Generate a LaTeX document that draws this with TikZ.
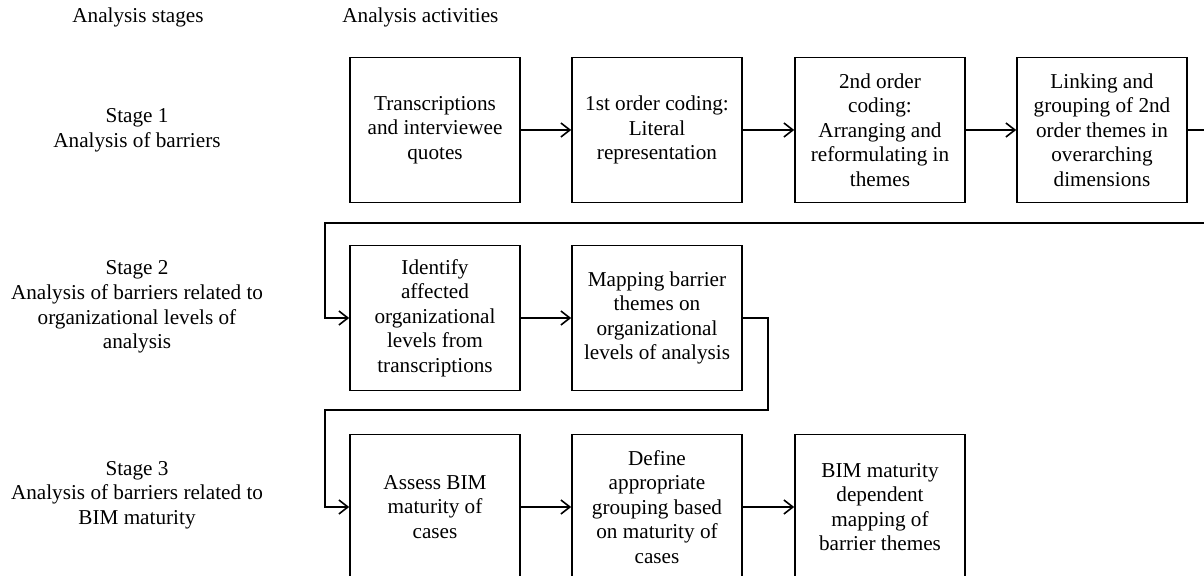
\documentclass[tikz,border=0pt]{standalone}
\usepackage{fontspec}
\setmainfont{Liberation Serif}
\usepackage{tikz}
\usetikzlibrary{arrows.meta}
\newcommand{\fuente}{\fontsize{10.6}{12.3}\selectfont}

\begin{document}
\begin{tikzpicture}[x=0.5pt,y=-0.5pt,
  caja/.style={draw,line width=0.8pt,minimum width=85pt,minimum height=72.5pt,inner sep=0pt,align=center,font=\fuente},
  etapa/.style={align=center,inner sep=0pt,font=\fuente},
  flujo/.style={line width=0.8pt,-{Straight Barb[length=4.5pt,width=7pt]}}]
 \useasboundingbox (0,0) rectangle (1204,576);
 \def\cA{435} % centros de columna
 \def\cB{657}
 \def\cC{880}
 \def\cD{1102}
 \def\rA{130} % centros de fila
 \def\rB{318}
 \def\rC{507}
% titulos
 \node[etapa] (hstages) at (138,17) {Analysis stages};
 \node[etapa,anchor=west] (hact) at (342,17) {Analysis activities};
 \node[etapa] (stA) at (137,130) {Stage 1\\Analysis of barriers};
 \node[etapa] (stB) at (137,307) {Stage 2\\Analysis of barriers related to\\organizational levels of\\analysis};
 \node[etapa] (stC) at (137,495) {Stage 3\\Analysis of barriers related to\\BIM maturity};
% fila 1
 \node[caja] (trans) at (\cA,\rA) {Transcriptions\\and interviewee\\quotes};
 \node[caja] (first) at (\cB,\rA) {1st order coding:\\Literal\\representation};
 \node[caja] (second) at (\cC,\rA) {2nd order\\coding:\\Arranging and\\reformulating in\\themes};
 \node[caja] (link) at (\cD,\rA) {Linking and\\grouping of 2nd\\order themes in\\overarching\\dimensions};
% fila 2
 \node[caja] (ident) at (\cA,\rB) {Identify\\affected\\organizational\\levels from\\transcriptions};
 \node[caja] (mapA) at (\cB,\rB) {Mapping barrier\\themes on\\organizational\\levels of analysis};
% fila 3
 \node[caja] (assess) at (\cA,\rC) {Assess BIM\\maturity of\\cases};
 \node[caja] (define) at (\cB,\rC) {Define\\appropriate\\grouping based\\on maturity of\\cases};
 \node[caja] (mapB) at (\cC,\rC) {BIM maturity\\dependent\\mapping of\\barrier themes};
% vueltas entre filas
 \coordinate (vA1) at (1215,223);
 \coordinate (vA2) at (325,223);
 \coordinate (vB1) at (768,410);
 \coordinate (vB2) at (325,410);
 \draw[flujo] (trans.east) -- (first.west);
 \draw[flujo] (first.east) -- (second.west);
 \draw[flujo] (second.east) -- (link.west);
 \draw[flujo] (link.east) -| (vA1) -- (vA2) |- (ident.west);
 \draw[flujo] (ident.east) -- (mapA.west);
 \draw[flujo] (mapA.east) -| (vB1) -- (vB2) |- (assess.west);
 \draw[flujo] (assess.east) -- (define.west);
 \draw[flujo] (define.east) -- (mapB.west);
\end{tikzpicture}
\end{document}
